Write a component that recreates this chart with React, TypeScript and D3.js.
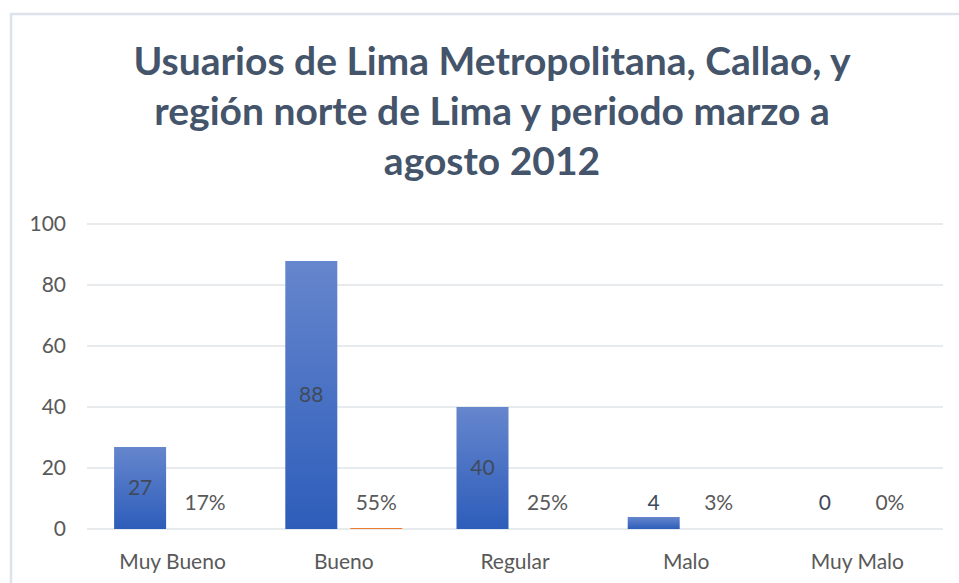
import React from 'react';
import * as d3 from 'd3';

const categories = ['Muy Bueno', 'Bueno', 'Regular', 'Malo', 'Muy Malo'];
const counts = [27, 88, 40, 4, 0];
const shares = [0.17, 0.55, 0.25, 0.03, 0];
const yTicks = [0, 20, 40, 60, 80, 100];
const titleLines = [
  'Usuarios de Lima Metropolitana, Callao, y',
  'región norte de Lima y periodo marzo a',
  'agosto 2012',
];

const W = 959;
const H = 583;
const FONT = 'Lato, "Open Sans", sans-serif';

export default function App() {
  const x0 = d3.scaleBand<string>().domain(categories).range([87, 943]).padding(0);
  const x1 = d3.scaleBand<string>().domain(['count', 'share']).range([0, 117]).paddingInner(0.2);
  const y = d3.scaleLinear().domain([0, 100]).range([529, 224]);
  const pct = d3.format('.0%');

  // Excel-like label placement: centred in the bar, pushed up when the bar is too short
  const labelY = (v: number) => Math.min(y(v / 2), y(0) - 26);
  // snap bar heights to whole pixels like the original renderer
  const barH = (v: number) => Math.floor(y(0) - y(v));

  return (
    <svg
      width={W}
      height={H}
      style={{ position: 'absolute', left: 0, top: 0, display: 'block', background: '#fff' }}
    >
      <defs>
        <linearGradient id="blueGrad" x1="0" y1="0" x2="0" y2="1">
          <stop offset="0%" stopColor="#6686CD" />
          <stop offset="100%" stopColor="#2D5DBA" />
        </linearGradient>
      </defs>

      {/* chart frame, cut off at right and bottom */}
      <rect x={11} y={14} width={W} height={H} fill="none" stroke="#DEE2EA" strokeWidth={2.5} />

      {titleLines.map((t, i) => (
        <text
          key={i}
          x={492}
          y={75 + i * 50}
          textAnchor="middle"
          fontFamily={FONT}
          fontWeight={700}
          fontSize={39}
          fill="#44546A"
        >
          {t}
        </text>
      ))}

      {yTicks.map((t) => (
        <g key={t}>
          <line x1={87} x2={943} y1={y(t)} y2={y(t)} stroke="#E1E4E9" strokeWidth={1.5} />
          <text
            x={66}
            y={y(t)}
            dy="0.35em"
            textAnchor="end"
            fontFamily={FONT}
            fontSize={21}
            fill="#595959"
          >
            {t}
          </text>
        </g>
      ))}

      {categories.map((c, i) => {
        const gx = x0(c)! + x0.bandwidth() / 2 - 58.5;
        const bx = gx + x1('count')!;
        const sx = gx + x1('share')!;
        const bw = x1.bandwidth();
        return (
          <g key={c}>
            <rect x={bx} y={y(0) - barH(counts[i])} width={bw} height={barH(counts[i])} fill="url(#blueGrad)" />
            <rect x={sx} y={y(0) - barH(shares[i])} width={bw} height={barH(shares[i])} fill="#ED7D31" />
            <text
              x={bx + bw / 2}
              y={labelY(counts[i])}
              dy="0.35em"
              textAnchor="middle"
              fontFamily={FONT}
              fontSize={21}
              fill="#404A5A"
            >
              {counts[i]}
            </text>
            <text
              x={sx + bw / 2}
              y={labelY(shares[i])}
              dy="0.35em"
              textAnchor="middle"
              fontFamily={FONT}
              fontSize={21}
              fill="#595959"
            >
              {pct(shares[i])}
            </text>
            <text
              x={x0(c)! + x0.bandwidth() / 2}
              y={562}
              dy="0.35em"
              textAnchor="middle"
              fontFamily={FONT}
              fontSize={21}
              fill="#595959"
            >
              {c}
            </text>
          </g>
        );
      })}
    </svg>
  );
}
